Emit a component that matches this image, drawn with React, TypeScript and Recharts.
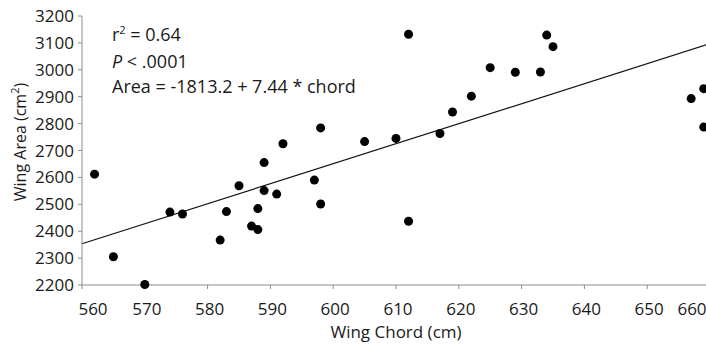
import React from 'react';
import { ScatterChart, Scatter, XAxis, YAxis, ReferenceLine } from 'recharts';

// wing chord (cm) and wing area (cm2) per bird
const chord = [
  562, 565, 570, 574, 576, 582, 583, 585, 587, 588, 588, 589, 589, 591, 592, 597, 598,
  598, 605, 610, 612, 612, 617, 619, 622, 625, 629, 633, 634, 635, 657, 659, 659,
];
const area = [
  2612, 2305, 2202, 2471, 2464, 2367, 2473, 2569, 2419, 2406, 2484, 2655, 2551, 2538, 2725, 2590, 2784,
  2501, 2733, 2745, 3132, 2437, 2763, 2843, 2902, 3008, 2991, 2992, 3129, 3086, 2893, 2930, 2787,
];

const xTicks = [560, 570, 580, 590, 600, 610, 620, 630, 640, 650, 660];
const yTicks = [2200, 2300, 2400, 2500, 2600, 2700, 2800, 2900, 3000, 3100, 3200];

// fitted regression: Area = -1813.2 + 7.44 * chord
const intercept = -1813.2;
const slope = 7.44;
const fitRange = [560, 660];

const points = chord.map((c, i) => ({ chord: c, area: area[i] }));

const FONT = '"Open Sans", sans-serif';
const INK = '#1a1a1a';
const AXIS = '#8c8c8c';

const Dot = (props: any) => <circle cx={props.cx} cy={props.cy} r={4.5} fill="#000" />;

const XTick = (props: any) => {
  const { x, y, payload } = props;
  // excel nudges the end labels inward
  let dx = 2;
  if (payload.value === 560) dx = 11;
  if (payload.value === 660) dx = -18;
  return (
    <text x={x + dx} y={y} dy={24} textAnchor="middle" fill={INK} fontSize={17} fontFamily={FONT}>
      {payload.value}
    </text>
  );
};

export default function App() {
  return (
    <div style={{ position: 'absolute', top: 0, left: 0, width: 706, height: 345, overflow: 'hidden', background: '#fff' }}>
      <ScatterChart width={730} height={345} margin={{ top: 16, right: 20, left: 0, bottom: 0 }}>
        <XAxis
          type="number"
          dataKey="chord"
          domain={[560, 660]}
          ticks={xTicks}
          interval={0}
          height={60}
          stroke={AXIS}
          tickSize={4}
          tick={<XTick />}
        />
        <YAxis
          type="number"
          dataKey="area"
          domain={[2200, 3200]}
          ticks={yTicks}
          interval={0}
          width={82}
          stroke={AXIS}
          tickSize={4}
          tickMargin={4}
          tick={{ fill: INK, fontSize: 17, fontFamily: FONT }}
        />
        <ReferenceLine
          segment={[
            { x: fitRange[0], y: intercept + slope * fitRange[0] },
            { x: fitRange[1], y: intercept + slope * fitRange[1] },
          ]}
          stroke="#111"
          strokeWidth={1.2}
        />
        <Scatter data={points} fill="#000" shape={<Dot />} isAnimationActive={false} />
        <text x={396} y={338} textAnchor="middle" fill={INK} fontSize={17} fontFamily={FONT}>
          Wing Chord (cm)
        </text>
        <text
          transform="translate(26,142) rotate(-90)"
          textAnchor="middle"
          fill={INK}
          fontSize={16}
          fontFamily={FONT}
        >
          Wing Area (cm<tspan fontSize={11} dy={-7}>2</tspan><tspan dy={7}>)</tspan>
        </text>
        <g fill={INK} fontSize={18} fontFamily={FONT}>
          <text x={112} y={41}>
            r<tspan fontSize={11} dy={-7}>2</tspan><tspan dy={7}> = 0.64</tspan>
          </text>
          <text x={112} y={68}>
            <tspan fontStyle="italic">P</tspan> &lt; .0001
          </text>
          <text x={112} y={93}>Area = -1813.2 + 7.44 * chord</text>
        </g>
      </ScatterChart>
    </div>
  );
}
